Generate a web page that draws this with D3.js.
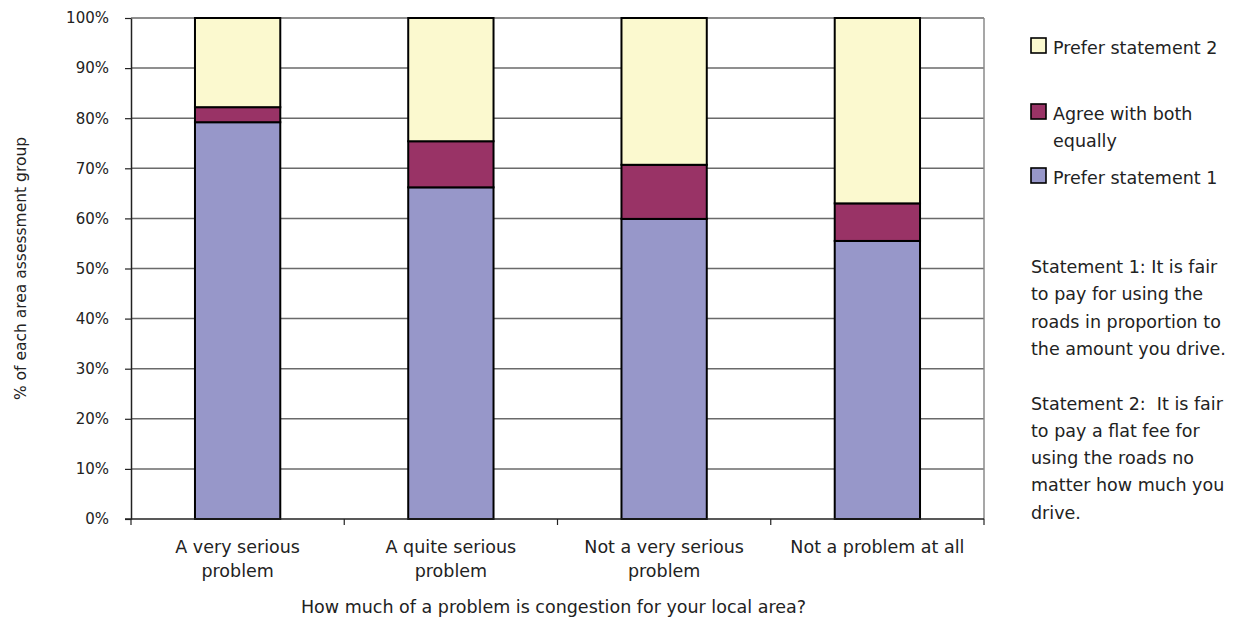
<!DOCTYPE html>
<html>
<head>
<meta charset="utf-8">
<script src="https://cdn.jsdelivr.net/npm/d3@7"></script>
<style>
  html, body { margin: 0; padding: 0; background: #fff; }
  svg { display: block; }
  text { font-family: "DejaVu Sans", sans-serif; fill: #222; }
</style>
</head>
<body>
<script>
const categories = [
  ["A very serious", "problem"],
  ["A quite serious", "problem"],
  ["Not a very serious", "problem"],
  ["Not a problem at all"]
];
const preferStatement1 = [79.2, 66.2, 59.9, 55.5];
const agreeBoth = [3.0, 9.2, 10.8, 7.5];
const preferStatement2 = [17.8, 24.6, 29.3, 37.0];
const seriesNames = ["Prefer statement 1", "Agree with both equally", "Prefer statement 2"];
const yTicks = [0, 10, 20, 30, 40, 50, 60, 70, 80, 90, 100];
const legendLabels = [["Prefer statement 2"], ["Agree with both", "equally"], ["Prefer statement 1"]];
const statementText = [
  "Statement 1: It is fair", "to pay for using the", "roads in proportion to", "the amount you drive.",
  "",
  "Statement 2:\u00a0 It is fair", "to pay a flat fee for", "using the roads no", "matter how much you", "drive."
];
const yTitle = "% of each area assessment group";
const xTitle = "How much of a problem is congestion for your local area?";

const W = 1236, H = 618;
const m = { left: 131, right: 984, top: 18, bottom: 519 };
const colors = { "Prefer statement 1": "#9797c9", "Agree with both equally": "#993366", "Prefer statement 2": "#fbf9cf" };

const svg = d3.select("body").append("svg").attr("width", W).attr("height", H);

const idx = categories.map((c, i) => i);
const x = d3.scaleBand().domain(idx).range([m.left, m.right]).paddingInner(0).paddingOuter(0);
const y = d3.scaleLinear().domain([0, 100]).range([m.bottom, m.top]);

const rows = idx.map(i => ({ i, "Prefer statement 1": preferStatement1[i], "Agree with both equally": agreeBoth[i], "Prefer statement 2": preferStatement2[i] }));
const stacked = d3.stack().keys(seriesNames).offset(d3.stackOffsetExpand)(rows);

// gridlines
svg.append("g").selectAll("line").data(yTicks.filter(t => t > 0)).join("line")
  .attr("x1", m.left).attr("x2", m.right)
  .attr("y1", d => y(d)).attr("y2", d => y(d))
  .attr("stroke", "#6a6a6a").attr("stroke-width", 1.5);
// right border
svg.append("line").attr("x1", m.right).attr("x2", m.right).attr("y1", m.top).attr("y2", m.bottom)
  .attr("stroke", "#8a8a8a").attr("stroke-width", 1.5);

// bars
const barW = x.bandwidth() * 0.4;
svg.append("g").selectAll("g").data(stacked).join("g")
  .attr("fill", d => colors[d.key])
  .selectAll("rect").data(d => d).join("rect")
  .attr("x", d => x(d.data.i) + (x.bandwidth() - barW) / 2)
  .attr("width", barW)
  .attr("y", d => y(d[1] * 100))
  .attr("height", d => y(d[0] * 100) - y(d[1] * 100))
  .attr("stroke", "#000").attr("stroke-width", 2);

// y axis
const yAxis = svg.append("g").attr("transform", `translate(${m.left},0)`)
  .call(d3.axisLeft(y).tickValues(yTicks).tickFormat(d => d + "%").tickSize(6).tickSizeOuter(0));
yAxis.select(".domain").attr("stroke", "#222").attr("stroke-width", 1.5);
yAxis.selectAll(".tick line").attr("stroke", "#222").attr("stroke-width", 1.2);
yAxis.selectAll(".tick text").attr("x", -22).attr("font-size", 15).attr("font-family", "DejaVu Sans, sans-serif").attr("fill", "#222");

// x axis
const xAxis = svg.append("g").attr("transform", `translate(0,${m.bottom})`);
xAxis.append("line").attr("x1", m.left - 6).attr("x2", m.right).attr("y1", 0).attr("y2", 0)
  .attr("stroke", "#222").attr("stroke-width", 1.5);
const bounds = idx.map(i => x(i)).concat([x(idx[idx.length - 1]) + x.bandwidth()]);
xAxis.selectAll("line.tk").data(bounds).join("line").attr("class", "tk")
  .attr("x1", d => d).attr("x2", d => d).attr("y1", 0).attr("y2", 6)
  .attr("stroke", "#222").attr("stroke-width", 1.2);
const xl = xAxis.selectAll("text.cat").data(idx).join("text").attr("class", "cat")
  .attr("text-anchor", "middle").attr("font-size", 17.5)
  .attr("x", i => x(i) + x.bandwidth() / 2).attr("y", 34);
xl.selectAll("tspan").data(i => categories[i]).join("tspan")
  .attr("x", function () { return d3.select(this.parentNode).attr("x"); })
  .attr("dy", (d, k) => k === 0 ? 0 : 24).text(d => d);

// axis titles
svg.append("text").attr("font-size", 15.5).attr("text-anchor", "middle")
  .attr("transform", `translate(26,${(m.top + m.bottom) / 2}) rotate(-90)`).text(yTitle);
svg.append("text").attr("font-size", 17.5).attr("text-anchor", "middle")
  .attr("x", (m.left + m.right) / 2 - 4).attr("y", 613).text(xTitle);

// legend
const legY = [54, 120, 184];
const leg = svg.append("g").selectAll("g").data(legendLabels).join("g")
  .attr("transform", (d, k) => `translate(1031,${legY[k]})`);
leg.append("rect").attr("x", 0).attr("y", -16).attr("width", 15).attr("height", 15)
  .attr("fill", (d, k) => colors[seriesNames[2 - k]]).attr("stroke", "#000").attr("stroke-width", 1.6);
leg.append("text").attr("font-size", 17.5).attr("x", 22).attr("y", 0)
  .selectAll("tspan").data(d => d).join("tspan").attr("x", 22).attr("dy", (d, k) => k === 0 ? 0 : 26.7).text(d => d);

// statements
svg.append("text").attr("font-size", 17.5).attr("x", 1031).attr("y", 273)
  .selectAll("tspan").data(statementText).join("tspan")
  .attr("x", 1031).attr("y", (d, k) => 273 + k * 27.3).text(d => d);
</script>
</body>
</html>
